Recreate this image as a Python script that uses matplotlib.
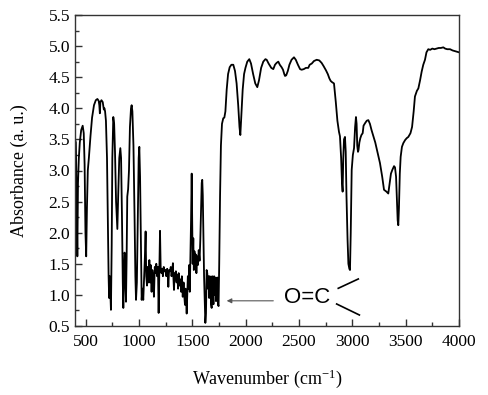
import matplotlib
matplotlib.use("Agg")
import matplotlib.pyplot as plt
from matplotlib.ticker import MultipleLocator, FormatStrFormatter

wavenumber = [
    400, 408, 415, 422, 428, 436, 445, 458, 472, 482, 490, 498, 505, 512, 520, 530, 545, 560, 578, 595,
    610, 622, 628, 633, 638, 648, 660, 670, 676, 682, 690, 700, 708, 715, 720, 726, 732, 737, 744, 750,
    759, 767, 775, 785, 797, 805, 815, 825, 832, 840, 848, 853, 858, 864, 870, 874, 878, 884, 890, 898,
    906, 915, 925, 931, 938, 948, 958, 966, 972, 980, 990, 997, 1003, 1010, 1018, 1025, 1032, 1040, 1048, 1055,
    1062, 1068, 1075, 1082, 1090, 1097, 1104, 1110, 1118, 1125, 1132, 1140, 1148, 1155, 1162, 1170, 1178, 1184, 1191, 1197,
    1203, 1210, 1217, 1224, 1232, 1240, 1248, 1256, 1264, 1270, 1275, 1282, 1290, 1298, 1305, 1312, 1318, 1322, 1328, 1334,
    1340, 1346, 1352, 1360, 1366, 1372, 1380, 1388, 1395, 1402, 1410, 1418, 1424, 1431, 1436, 1440, 1447, 1452, 1458, 1464,
    1470, 1476, 1482, 1488, 1494, 1499, 1503, 1509, 1514, 1520, 1526, 1532, 1538, 1545, 1552, 1560, 1568, 1575, 1582, 1588,
    1593, 1598, 1604, 1610, 1616, 1622, 1628, 1634, 1640, 1646, 1652, 1658, 1664, 1670, 1676, 1681, 1686, 1692, 1698, 1704,
    1710, 1716, 1722, 1728, 1734, 1740, 1746, 1752, 1760, 1768, 1778, 1790, 1800, 1810, 1822, 1835, 1850, 1866, 1884, 1900,
    1915, 1930, 1942, 1950, 1960, 1972, 1985, 1998, 2015, 2034, 2050, 2070, 2090, 2109, 2125, 2145, 2165, 2185, 2197, 2215,
    2240, 2259, 2275, 2290, 2306, 2320, 2337, 2350, 2362, 2369, 2380, 2395, 2410, 2430, 2453, 2470, 2490, 2510, 2525, 2545,
    2565, 2587, 2600, 2620, 2640, 2666, 2690, 2712, 2730, 2753, 2770, 2785, 2797, 2810, 2828, 2845, 2860, 2875, 2884, 2895,
    2903, 2909, 2915, 2922, 2931, 2938, 2945, 2955, 2963, 2972, 2978, 2985, 2994, 3005, 3016, 3026, 3034, 3040, 3046, 3053,
    3058, 3066, 3075, 3085, 3097, 3105, 3119, 3135, 3150, 3165, 3180, 3197, 3215, 3235, 3259, 3280, 3297, 3320, 3337, 3350,
    3362, 3375, 3391, 3400, 3410, 3418, 3425, 3431, 3437, 3445, 3453, 3465, 3478, 3495, 3510, 3525, 3545, 3560, 3575, 3587,
    3605, 3619, 3635, 3650, 3665, 3681, 3695, 3712, 3730, 3750, 3770, 3791, 3810, 3830, 3853, 3870, 3890, 3916, 3940, 3960,
    3980, 4000,
]
absorbance = [
    3.50, 3.45, 2.60, 1.62, 2.80, 3.20, 3.45, 3.65, 3.72, 3.60, 3.10, 2.00, 1.62, 2.40, 3.00, 3.20, 3.55, 3.85, 4.05, 4.13,
    4.15, 4.12, 4.05, 3.92, 4.10, 4.13, 4.10, 3.98, 4.00, 3.95, 3.80, 3.20, 2.20, 1.30, 0.95, 1.30, 1.00, 0.76, 1.80, 3.20,
    3.86, 3.75, 3.30, 2.50, 2.06, 2.60, 3.20, 3.36, 3.20, 2.30, 1.20, 0.79, 1.20, 1.68, 1.65, 1.10, 0.89, 1.60, 2.58, 2.70,
    3.00, 3.70, 4.00, 4.05, 3.95, 3.40, 2.30, 1.30, 0.92, 1.20, 2.40, 3.20, 3.38, 2.90, 1.80, 0.92, 1.10, 0.92, 1.30, 1.60,
    2.02, 1.30, 1.15, 1.45, 1.20, 1.56, 1.20, 1.48, 1.05, 1.40, 1.30, 0.97, 1.45, 1.35, 1.50, 1.30, 1.45, 0.71, 1.40, 2.03,
    1.45, 1.35, 1.42, 1.30, 1.45, 1.38, 1.40, 1.30, 1.42, 1.35, 1.13, 1.40, 1.38, 1.45, 1.30, 1.40, 1.51, 1.30, 1.08, 1.35,
    1.25, 1.38, 1.20, 1.32, 1.10, 1.35, 1.15, 1.25, 1.05, 1.30, 0.97, 1.20, 1.00, 0.84, 1.10, 1.00, 0.70, 1.00, 1.30, 1.10,
    1.48, 1.05, 1.60, 2.20, 2.95, 2.20, 1.50, 1.91, 1.40, 1.70, 1.45, 1.65, 1.35, 1.62, 1.48, 1.72, 1.55, 1.90, 2.40, 2.80,
    2.85, 2.60, 1.90, 1.30, 0.90, 0.55, 0.70, 1.40, 1.35, 1.10, 1.30, 0.95, 1.30, 1.25, 0.85, 0.79, 1.30, 1.10, 0.85, 1.30,
    1.00, 1.28, 0.90, 1.20, 1.28, 0.85, 0.82, 1.50, 2.60, 3.40, 3.75, 3.84, 3.85, 3.95, 4.30, 4.55, 4.66, 4.70, 4.70, 4.60,
    4.40, 4.05, 3.70, 3.57, 3.90, 4.30, 4.55, 4.65, 4.75, 4.79, 4.72, 4.55, 4.40, 4.34, 4.45, 4.65, 4.75, 4.79, 4.78, 4.72,
    4.65, 4.63, 4.70, 4.73, 4.75, 4.70, 4.66, 4.62, 4.55, 4.52, 4.53, 4.60, 4.70, 4.78, 4.82, 4.78, 4.70, 4.63, 4.62, 4.63,
    4.65, 4.65, 4.70, 4.72, 4.76, 4.78, 4.77, 4.73, 4.68, 4.61, 4.55, 4.48, 4.44, 4.42, 4.40, 4.10, 3.80, 3.62, 3.55, 3.20,
    2.80, 2.66, 3.20, 3.50, 3.54, 3.30, 2.60, 1.90, 1.50, 1.42, 1.40, 2.00, 3.01, 3.25, 3.36, 3.70, 3.86, 3.75, 3.40, 3.30,
    3.33, 3.45, 3.52, 3.57, 3.60, 3.72, 3.76, 3.80, 3.81, 3.75, 3.65, 3.55, 3.45, 3.30, 3.12, 2.90, 2.69, 2.66, 2.63, 2.80,
    2.95, 3.01, 3.07, 3.05, 2.90, 2.50, 2.20, 2.12, 2.40, 2.95, 3.22, 3.38, 3.44, 3.49, 3.52, 3.54, 3.60, 3.70, 3.95, 4.19,
    4.28, 4.32, 4.45, 4.59, 4.70, 4.78, 4.90, 4.95, 4.94, 4.96, 4.95, 4.96, 4.97, 4.97, 4.98, 4.96, 4.95, 4.95, 4.93, 4.92,
    4.91, 4.90,
]

x_ticks = [500, 1000, 1500, 2000, 2500, 3000, 3500, 4000]
y_ticks = [0.5, 1.0, 1.5, 2.0, 2.5, 3.0, 3.5, 4.0, 4.5, 5.0, 5.5]

plt.rcParams['font.family'] = ['Liberation Serif', 'DejaVu Serif']
plt.rcParams['mathtext.fontset'] = 'custom'
plt.rcParams['mathtext.rm'] = 'Liberation Serif'
plt.rcParams['mathtext.it'] = 'Liberation Serif:italic'
plt.rcParams['mathtext.default'] = 'rm'

fig = plt.figure(figsize=(4.89, 3.95), dpi=100)
ax = fig.add_axes([75/489, 69/395, 384/489, 311/395])

ax.plot(wavenumber, absorbance, color='black', lw=1.3, solid_joinstyle='round')

ax.set_xlim(400, 4000)
ax.set_ylim(0.5, 5.5)
ax.set_xticks(x_ticks)
ax.set_yticks(y_ticks)
ax.xaxis.set_minor_locator(MultipleLocator(250))
ax.yaxis.set_minor_locator(MultipleLocator(0.25))
ax.yaxis.set_major_formatter(FormatStrFormatter('%.1f'))
ax.tick_params(which='both', direction='in', top=False, right=False, labelsize=12.5, color='#333333')
ax.tick_params(which='major', length=5, width=1)
ax.tick_params(which='minor', length=3, width=1)
ax.tick_params(axis='x', pad=6)
for sp in ax.spines.values():
    sp.set_color('#333333')
    sp.set_linewidth(1.0)

ax.set_xlabel('Wavenumber (cm$^{-1}$)', fontsize=13, labelpad=12)
ax.set_ylabel('Absorbance (a. u.)', fontsize=13, labelpad=15)

# annotation: arrow and O=C group
ax.annotate('', xy=(1822, 0.905), xytext=(2259, 0.905),
            arrowprops=dict(arrowstyle='-|>', color='#555555', lw=0.8,
                            mutation_scale=7, shrinkA=0, shrinkB=0))
ax.text(2580, 0.96, 'O=C', fontsize=16, family='Liberation Sans',
        ha='center', va='center', color='black')
ax.plot([2868, 3056], [1.106, 1.256], color='black', lw=1.2)
ax.plot([2853, 3066], [0.854, 0.677], color='black', lw=1.2)

fig.savefig('out.png', dpi=100)
